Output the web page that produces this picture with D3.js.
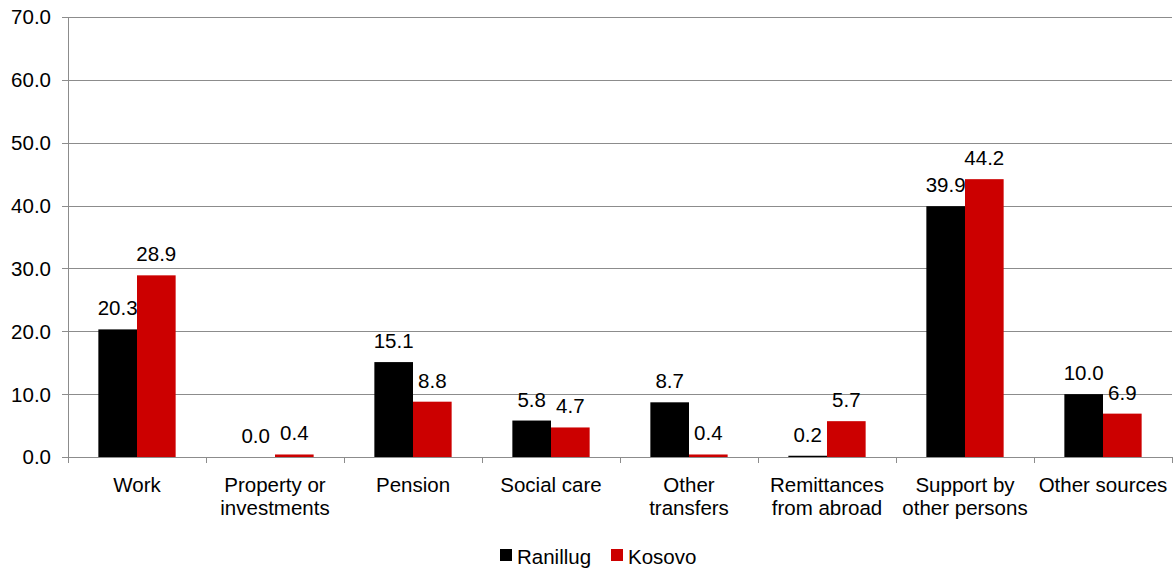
<!DOCTYPE html>
<html><head><meta charset="utf-8">
<script src="https://cdn.jsdelivr.net/npm/d3@7"></script>
<style>body{margin:0;background:#fff}text{font-family:"Liberation Sans",Arial,sans-serif;fill:#000}</style>
</head><body><svg id="c" width="1174" height="569"></svg>
<script>
const categories = [["Work"],["Property or","investments"],["Pension"],["Social care"],["Other","transfers"],["Remittances","from abroad"],["Support by","other persons"],["Other sources"]];
const seriesNames = ["Ranillug","Kosovo"];
const ranillug = [20.3,0.0,15.1,5.8,8.7,0.2,39.9,10.0];
const kosovo = [28.9,0.4,8.8,4.7,0.4,5.7,44.2,6.9];
const yTicks = [0,10,20,30,40,50,60,70];
const colors = ["#000000","#CC0000"];

const svg = d3.select("#c");
const pL = 68, pR = 1172, pT = 17, pB = 457;
const FS = 20.5;
const x = d3.scaleBand().domain(d3.range(categories.length)).range([pL,pR]).paddingInner(0).paddingOuter(0);
const y = d3.scaleLinear().domain([0,70]).range([pB,pT]);
const bw = x.bandwidth();
const barW = bw*0.28;
const groupStart = (bw - 2*barW)/2;

// gridlines
svg.append("g").selectAll("line").data(yTicks).join("line")
  .attr("x1",pL-6).attr("x2",pR).attr("y1",d=>Math.round(y(d))+0.5).attr("y2",d=>Math.round(y(d))+0.5)
  .attr("stroke","#8c8c8c").attr("stroke-width",1);
// y labels
svg.append("g").selectAll("text").data(yTicks).join("text")
  .attr("x",pL-17).attr("y",d=>y(d)).attr("dy","0.36em").attr("text-anchor","end")
  .attr("font-size",FS).text(d=>d.toFixed(1));
// y axis line
svg.append("line").attr("x1",pL+0.5).attr("x2",pL+0.5).attr("y1",pT).attr("y2",pB)
  .attr("stroke","#8c8c8c");
// x tick marks
svg.append("g").selectAll("line").data(d3.range(categories.length+1)).join("line")
  .attr("x1",d=>Math.round(pL+d*bw)+0.5).attr("x2",d=>Math.round(pL+d*bw)+0.5)
  .attr("y1",pB).attr("y2",pB+6).attr("stroke","#8c8c8c");

const series = [ranillug,kosovo];
series.forEach((vals,si)=>{
  const g = svg.append("g");
  g.selectAll("rect").data(vals).join("rect")
    .attr("x",(d,i)=>x(i)+groupStart+si*barW)
    .attr("y",d=>y(d)).attr("width",barW).attr("height",d=>pB-y(d))
    .attr("fill",colors[si]);
  g.selectAll("text").data(vals).join("text")
    .attr("x",(d,i)=>x(i)+groupStart+si*barW+barW/2)
    .attr("y",d=>y(d)-14).attr("text-anchor","middle").attr("font-size",FS)
    .text(d=>d.toFixed(1));
});

// category labels
const cl = svg.append("g");
categories.forEach((lines,i)=>{
  const t = cl.append("text").attr("x",x(i)+bw/2).attr("y",492).attr("text-anchor","middle").attr("font-size",FS);
  lines.forEach((l,j)=>t.append("tspan").attr("x",x(i)+bw/2).attr("dy",j?23:0).text(l));
});

// legend
const lg = svg.append("g");
const lx = [500,611];
seriesNames.forEach((n,i)=>{
  lg.append("rect").attr("x",lx[i]).attr("y",549).attr("width",12).attr("height",12).attr("fill",colors[i]);
  lg.append("text").attr("x",lx[i]+17).attr("y",564).attr("font-size",FS).text(n);
});
</script></body></html>
